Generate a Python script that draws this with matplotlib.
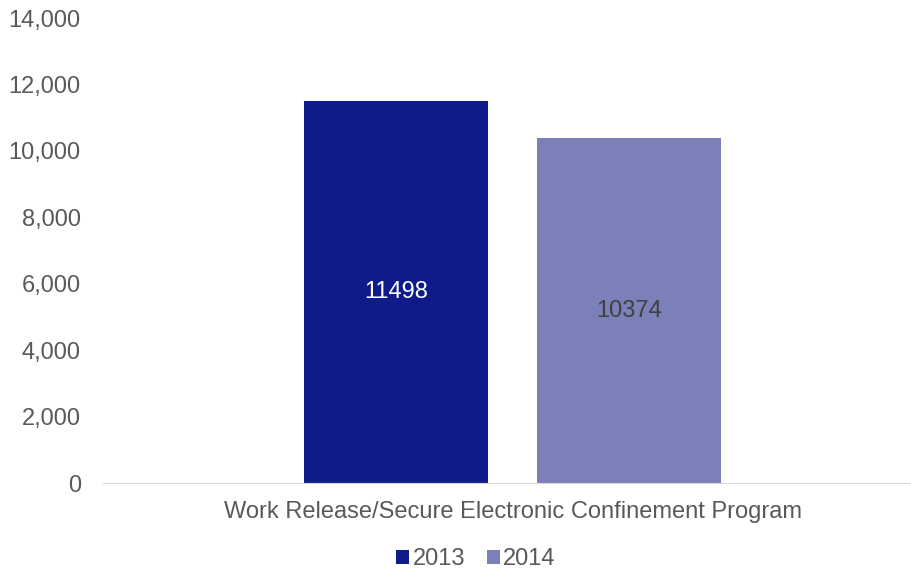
import matplotlib.pyplot as plt

# data
years = ["2013", "2014"]
values = [11498, 10374]
category = "Work Release/Secure Electronic Confinement Program"
colors = ["#0F1B8A", "#7B80B8"]
label_colors = ["white", "#404040"]

plt.rcParams["font.family"] = ["Liberation Sans", "DejaVu Sans"]

fig = plt.figure(figsize=(9.12, 5.71), dpi=100)
ax = fig.add_axes([103 / 912, 88 / 571, 809 / 912, 465 / 571])

offsets = [-0.1456, 0.1456]
width = 0.23
for yr, v, c, lc, off in zip(years, values, colors, label_colors, offsets):
    ax.bar(off, v, width=width, color=c, label=yr)
    ax.text(off, v / 2, str(v), ha="center", va="center", fontsize=17, color=lc)

ax.set_xlim(-0.512, 0.499)
ax.set_ylim(0, 14000)
ax.set_yticks(range(0, 14001, 2000))
ax.set_yticklabels([f"{t:,}" for t in range(0, 14001, 2000)])
ax.set_xticks([0])
ax.set_xticklabels([category])
ax.tick_params(axis="both", length=0, labelsize=17, labelcolor="#595959")
ax.tick_params(axis="y", pad=16)
ax.tick_params(axis="x", pad=13)

for s in ["top", "right", "left"]:
    ax.spines[s].set_visible(False)
ax.spines["bottom"].set_color("#D9D9D9")

fig.legend(loc="lower center", bbox_to_anchor=(0.522, -0.036), ncol=2, frameon=False,
           fontsize=17, handlelength=0.55, handleheight=0.55, handletextpad=0.15,
           columnspacing=0.9, labelcolor="#595959")

fig.savefig("out.png")
